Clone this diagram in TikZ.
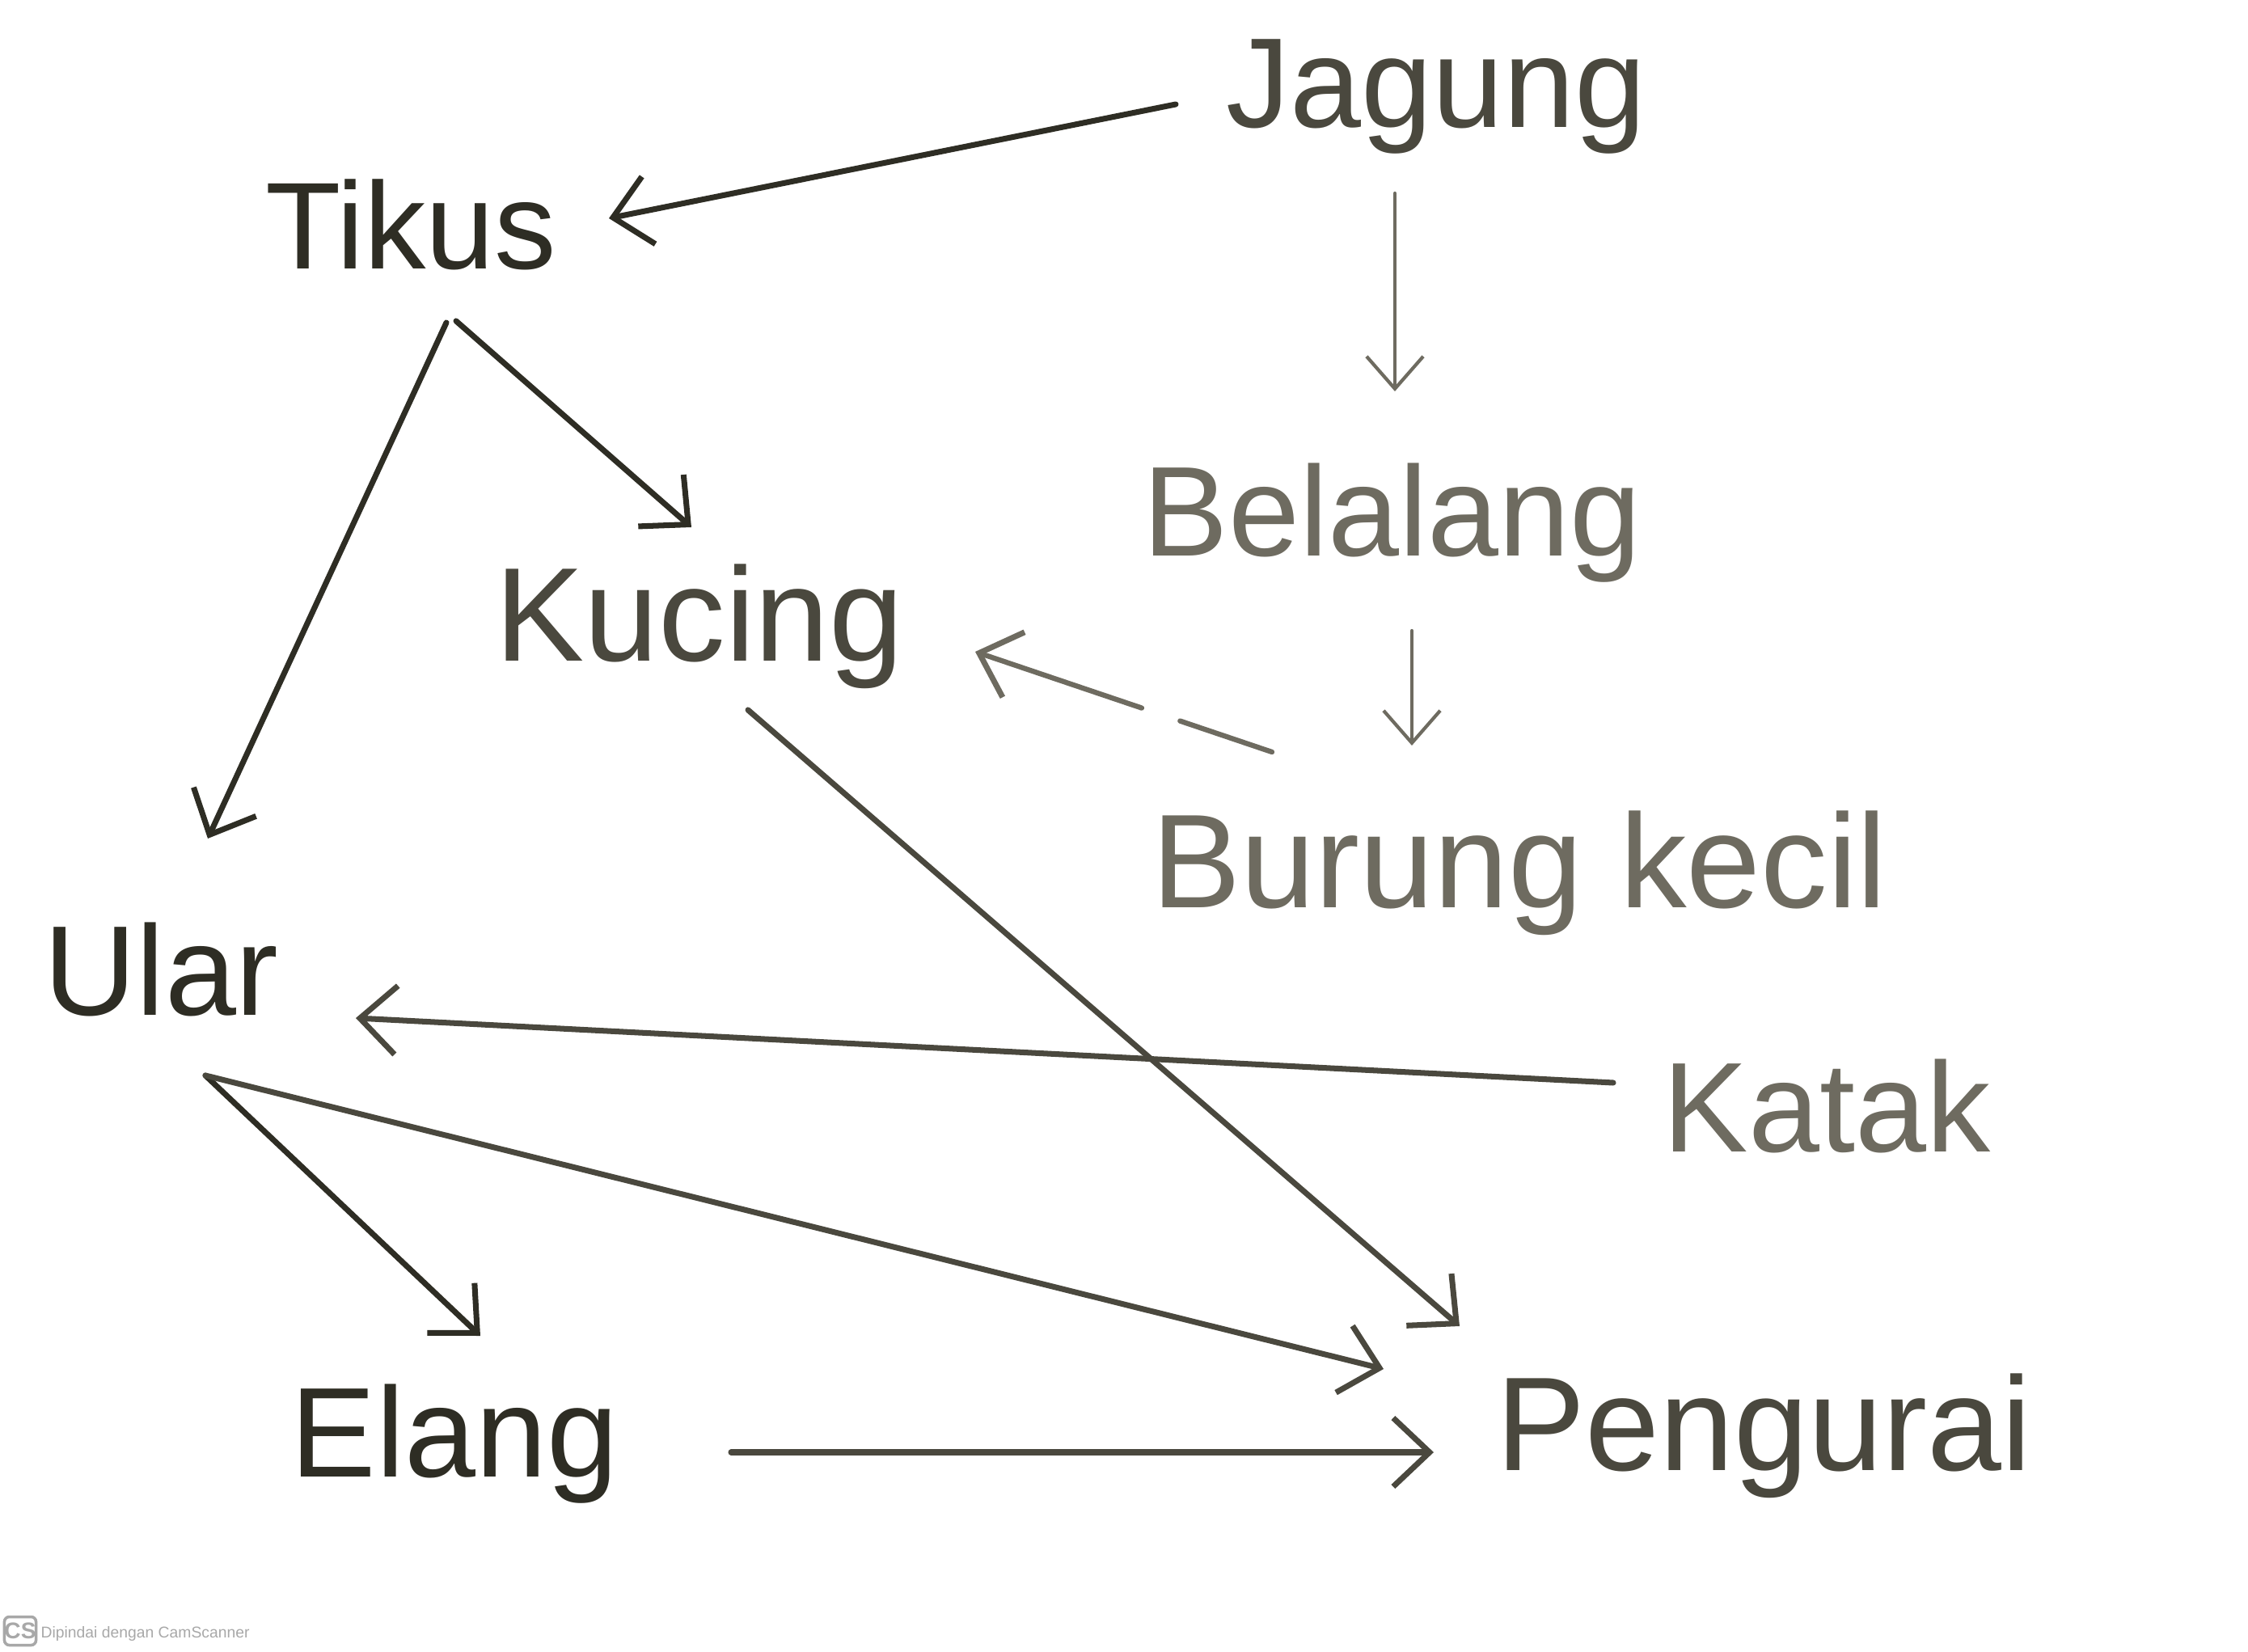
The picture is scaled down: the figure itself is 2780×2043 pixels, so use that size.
\documentclass[tikz,border=0pt]{standalone}
\usepackage{fontspec}
\setmainfont{Liberation Sans}
\usetikzlibrary{arrows.meta}
\definecolor{ink}{HTML}{2E2D24}
\definecolor{inkm}{HTML}{4A483E}
\definecolor{inkl}{HTML}{6E6B60}
\definecolor{wm}{HTML}{A8A8A8}
\begin{document}
\begin{tikzpicture}[x=0.1mm,y=-0.1mm,
  lbl/.style={font=\fontsize{45}{50}\selectfont, inner sep=0pt, anchor=base west},
  lblb/.style={font=\fontsize{47}{52}\selectfont, inner sep=0pt, anchor=base west},
  arr/.style={draw=ink, line width=2pt, line cap=round,
    -{Straight Barb[length=4.5mm,width=8.5mm,line width=2pt]}},
  thinarr/.style={draw=inkl, line width=1.2pt, line cap=round,
    -{Straight Barb[length=4mm,width=7mm,line width=1.2pt]}}]
\useasboundingbox (0,0) rectangle (2780,2043);
% labels
\node[lbl, text=inkm] (jagung) at (1516,158) {Jagung};
\node[lbl, text=ink, font=\fontsize{43.5}{48}\selectfont] (tikus) at (328,333) {Tikus};
\node[lbl, text=inkl] (belalang) at (1413,688) {Belalang};
\node[lblb, text=inkm] (kucing) at (612,818) {Kucing};
\node[lblb, text=inkl] (burung) at (1424,1122) {Burung kecil};
\node[lbl, text=ink] (ular) at (54,1255) {Ular};
\node[lbl, text=inkl] (katak) at (2056,1424) {Katak};
\node[lbl, text=ink] (elang) at (359,1826) {Elang};
\node[lblb, text=inkm] (pengurai) at (1850,1818) {Pengurai};
% connector ends
\coordinate (jT) at (1454,129);  \coordinate (tJ) at (753,270);
\coordinate (jB) at (1725,239);  \coordinate (bJ) at (1725,484);
\coordinate (bB) at (1746,780);  \coordinate (kB) at (1746,922);
\coordinate (bK) at (1573,930);  \coordinate (kb) at (1206,806);
\coordinate (tK) at (564,397);   \coordinate (kT) at (855,652);
\coordinate (tU) at (552,399);   \coordinate (uT) at (257,1037);
\coordinate (kP) at (925,878);   \coordinate (pK) at (1805,1640);
\coordinate (aU) at (1995,1339); \coordinate (uA) at (440,1259);
\coordinate (uE) at (254,1330);  \coordinate (eU) at (594,1652);
\coordinate (pU) at (1711,1693);
\coordinate (eP) at (904,1796);  \coordinate (pE) at (1773,1796);
% connectors
\draw[arr] (jT) -- (tJ);
\draw[thinarr] (jB) -- (bJ);
\draw[thinarr] (bB) -- (kB);
\draw[arr, draw=inkl, line width=1.8pt, dash pattern=on 12mm off 5mm on 40mm] (bK) -- (kb);
\draw[arr] (tK) -- (kT);
\draw[arr] (tU) -- (uT);
\draw[arr, draw=inkm] (kP) -- (pK);
\draw[arr, draw=inkm] (aU) -- (uA);
\draw[arr] (uE) -- (eU);
\draw[arr, draw=inkm] (uE) -- (pU);
\draw[arr, draw=inkm] (eP) -- (pE);
% watermark
\node[draw=wm, fill=white, line width=1pt, rounded corners=0.6mm, minimum width=3.5mm, minimum height=3.5mm,
  inner sep=0pt, text=wm, font=\fontsize{8}{9}\selectfont\bfseries] (cs) at (25,2017) {CS};
\node[anchor=west, inner sep=0pt, text=wm, font=\fontsize{5.5}{6}\selectfont] (wmt) at (50,2020) {Dipindai dengan CamScanner};
\end{tikzpicture}
\end{document}
